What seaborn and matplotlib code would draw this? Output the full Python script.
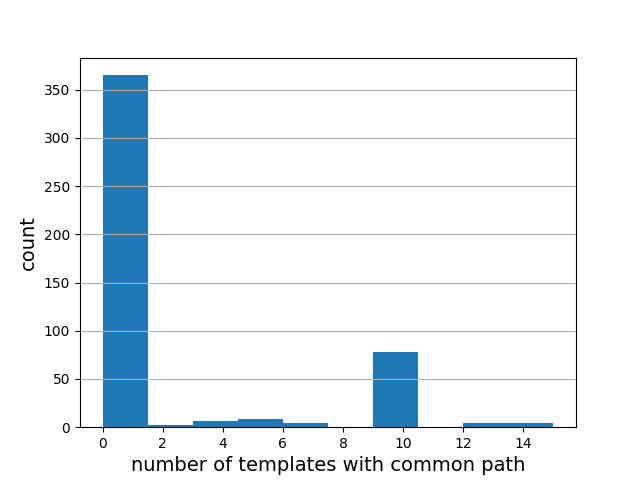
import numpy as np
import matplotlib
matplotlib.use("Agg")
import matplotlib.pyplot as plt
import seaborn as sns

# histogram: 10 bins between 0 and 15
bin_edges = [0, 1.5, 3, 4.5, 6, 7.5, 9, 10.5, 12, 13.5, 15]
counts = [365, 2, 6, 9, 4, 0, 78, 0, 4, 4]

centers = [(bin_edges[i] + bin_edges[i + 1]) / 2 for i in range(len(counts))]

fig, ax = plt.subplots(figsize=(6.4, 4.8), dpi=100)
sns.histplot(x=centers, weights=counts, bins=bin_edges, ax=ax,
             color="#1f77b4", alpha=1, linewidth=0, edgecolor="none")
ax.set_axisbelow(False)
ax.yaxis.grid(True, color="#b0b0b0", linewidth=0.8)
ax.xaxis.grid(False)
ax.set_xlabel("number of templates with common path", fontsize=14)
ax.set_ylabel("count", fontsize=14)
ax.set_xticks([0, 2, 4, 6, 8, 10, 12, 14])
ax.set_xlim(-0.75, 15.75)
fig.savefig("out.png", dpi=100)
